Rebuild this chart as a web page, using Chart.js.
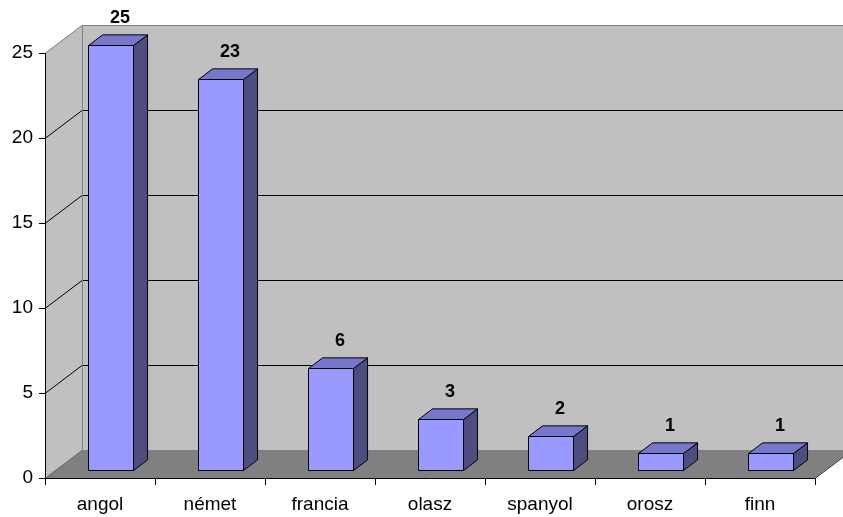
<!DOCTYPE html>
<html>
<head>
<meta charset="utf-8">
<script src="https://cdn.jsdelivr.net/npm/chart.js@4.4.1/dist/chart.umd.min.js"></script>
<style>
  html, body { margin: 0; padding: 0; background: #fff; }
  #wrap { width: 843px; height: 517px; position: relative; }
</style>
</head>
<body>
<div id="wrap"><canvas id="langChart"></canvas></div>
<script>
const languages = ['angol', 'német', 'francia', 'olasz', 'spanyol', 'orosz', 'finn'];
const counts = [25, 23, 6, 3, 2, 1, 1];
const yTicks = [0, 5, 10, 15, 20, 25];

// depth of the 3D box, and the slice of that depth each bar occupies
const DEPTH_X = 37, DEPTH_Y = 28;
const BAR_FRONT = 0.28, BAR_BACK = 0.66;

const faceColor = '#9999FF';
const topColor = '#7777CC';
const sideColor = '#4D4D80';
const wallColor = '#C0C0C0';
const floorColor = '#808080';
const edgeColor = '#808080';

function poly(ctx, pts, fill, stroke) {
    ctx.beginPath();
    ctx.moveTo(pts[0][0], pts[0][1]);
    for (let i = 1; i < pts.length; i++) ctx.lineTo(pts[i][0], pts[i][1]);
    ctx.closePath();
    if (fill) { ctx.fillStyle = fill; ctx.fill(); }
    if (stroke) { ctx.strokeStyle = stroke; ctx.lineWidth = 1; ctx.stroke(); }
}

function line(ctx, x1, y1, x2, y2, color) {
    ctx.beginPath();
    ctx.moveTo(x1, y1);
    ctx.lineTo(x2, y2);
    ctx.strokeStyle = color;
    ctx.lineWidth = 1;
    ctx.stroke();
}

// walls, floor and gridlines behind everything
const wallsPlugin = {
    id: 'walls',
    beforeDraw(chart) {
        const ctx = chart.ctx;
        const { left, right } = chart.chartArea;
        const ys = chart.scales.y;
        const top = ys.getPixelForValue(yTicks[yTicks.length - 1]);
        const bottom = ys.getPixelForValue(0);
        const bl = left + DEPTH_X;
        const br = right + DEPTH_X;
        ctx.save();
        // side wall and back wall
        poly(ctx, [[left, top], [bl, top - DEPTH_Y], [bl, bottom - DEPTH_Y], [left, bottom]], wallColor);
        poly(ctx, [[bl, top - DEPTH_Y], [br, top - DEPTH_Y], [br, bottom - DEPTH_Y], [bl, bottom - DEPTH_Y]], wallColor);
        // floor
        poly(ctx, [[left, bottom], [bl, bottom - DEPTH_Y], [br, bottom - DEPTH_Y], [right, bottom]], floorColor);
        // gridlines across the side and back walls
        yTicks.forEach(v => {
            if (v === 0 || v === yTicks[yTicks.length - 1]) return;
            const py = Math.round(ys.getPixelForValue(v)) + 0.5;
            line(ctx, left, py, bl, py - DEPTH_Y, '#000');
            line(ctx, bl, py - DEPTH_Y, br, py - DEPTH_Y, '#000');
        });
        // outer edges of the box
        const ty = Math.round(top) + 0.5;
        line(ctx, left, ty, bl, ty - DEPTH_Y, edgeColor);
        line(ctx, bl, ty - DEPTH_Y, br, ty - DEPTH_Y, edgeColor);
        line(ctx, bl + 0.5, ty - DEPTH_Y, bl + 0.5, bottom - DEPTH_Y, edgeColor);
        const fy = Math.round(bottom) + 0.5;
        line(ctx, left, fy, bl, fy - DEPTH_Y, '#6a6a6a');
        line(ctx, right, fy, br, fy - DEPTH_Y, '#222');
        ctx.restore();
    }
};

// 3D boxes and value labels on top of the default (transparent) bars
const boxesPlugin = {
    id: 'boxes',
    afterDatasetsDraw(chart) {
        const ctx = chart.ctx;
        const meta = chart.getDatasetMeta(0);
        const ox = BAR_FRONT * DEPTH_X, oy = BAR_FRONT * DEPTH_Y;
        const dx = (BAR_BACK - BAR_FRONT) * DEPTH_X, dy = (BAR_BACK - BAR_FRONT) * DEPTH_Y;
        ctx.save();
        meta.data.forEach((bar, i) => {
            const p = bar.getProps(['x', 'y', 'base', 'width'], true);
            const L = Math.round(p.x - p.width / 2 + ox) + 0.5;
            const R = Math.round(p.x + p.width / 2 + ox) + 0.5;
            const T = Math.round(p.y - oy) + 0.5;
            const B = Math.round(p.base - oy) + 0.5;
            poly(ctx, [[R, T], [R + dx, T - dy], [R + dx, B - dy], [R, B]], sideColor, '#000');
            poly(ctx, [[L, T], [L + dx, T - dy], [R + dx, T - dy], [R, T]], topColor, '#000');
            poly(ctx, [[L, T], [R, T], [R, B], [L, B]], faceColor, '#000');

            ctx.fillStyle = '#000';
            ctx.font = 'bold 18px "Liberation Sans", Arial, sans-serif';
            ctx.textAlign = 'center';
            ctx.textBaseline = 'alphabetic';
            ctx.fillText(String(counts[i]), (L + R) / 2 + dx / 2 + 2, T - 23);
        });
        ctx.restore();
    }
};

const tickFont = { family: '"Liberation Sans", Arial, sans-serif', size: 19 };

new Chart(document.getElementById('langChart'), {
    type: 'bar',
    data: {
        labels: languages,
        datasets: [{
            data: counts,
            backgroundColor: 'rgba(0,0,0,0)',
            borderWidth: 0,
            barPercentage: 0.41,
            categoryPercentage: 1.0
        }]
    },
    options: {
        responsive: true,
        maintainAspectRatio: false,
        animation: false,
        layout: { padding: { top: 53, right: 28, bottom: 0, left: 0 } },
        plugins: {
            legend: { display: false },
            tooltip: { enabled: false }
        },
        scales: {
            x: {
                grid: { display: true, drawOnChartArea: false, drawTicks: true, tickLength: 7, color: '#000', offset: true },
                border: { display: true, color: '#000', width: 1 },
                ticks: { color: '#000', font: tickFont, padding: 8, maxRotation: 0 },
                afterFit(scale) { scale.height = 39; }
            },
            y: {
                min: 0,
                max: 25,
                grid: { display: true, drawOnChartArea: false, drawTicks: true, tickLength: 6, color: '#000' },
                border: { display: true, color: '#000', width: 1 },
                ticks: { stepSize: 5, color: '#000', font: tickFont, padding: 6 },
                afterFit(scale) { scale.width = 45; }
            }
        }
    },
    plugins: [wallsPlugin, boxesPlugin]
});
</script>
</body>
</html>
